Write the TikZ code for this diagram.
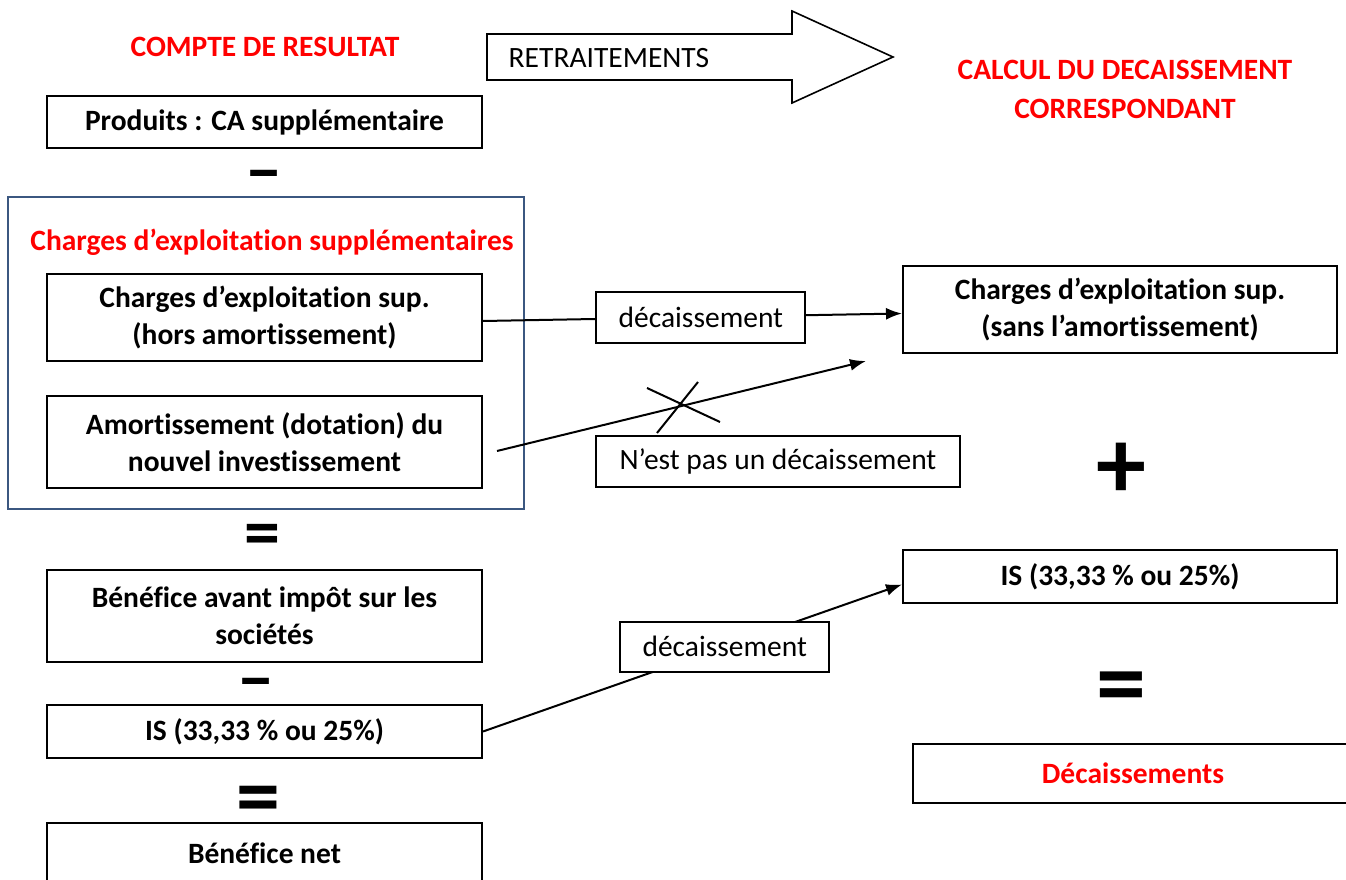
\documentclass[tikz,border=0pt]{standalone}
\usepackage{fontspec}
\setmainfont{Carlito}[Ligatures=NoCommon]
\usetikzlibrary{arrows.meta}
\definecolor{framebleu}{RGB}{59,87,128}
\definecolor{rouge}{RGB}{255,0,0}
\newcommand{\signemoins}{\scalebox{1.8}[1]{-}}

\begin{document}
\begin{tikzpicture}[
    x=1pt, y=-1pt,
    font=\fontsize{29.5}{37}\selectfont,
    poste/.style={draw, line width=2pt, minimum width=435pt, align=center, inner sep=0pt, font=\fontsize{29.5}{37}\selectfont\bfseries}, % boites du compte de resultat
    etiq/.style={draw, line width=2pt, fill=white, minimum height=51pt, align=center, inner sep=0pt}, % etiquettes sur les fleches
    titre/.style={text=rouge, align=center, font=\fontsize{29.5}{39}\selectfont\bfseries},
    signe/.style={inner sep=0pt},
    fleche/.style={line width=2pt, -{Latex[length=16pt,width=12pt]}},
  ]
\useasboundingbox (0,0) rectangle (1346,880);
\clip (0,0) rectangle (1346,880);

% titres
\node[titre] (cr) at (265,47) {COMPTE DE RESULTAT};
\node[titre] (calcul) at (1125,89) {CALCUL DU DECAISSEMENT\\CORRESPONDANT};

% grosse fleche
\draw[line width=1.6pt] (487,34) -- (792,34) -- (792,11) -- (893,57) -- (792,103) -- (792,80) -- (487,80) -- cycle;
\node (retr) at (609,58) {RETRAITEMENTS};

% colonne de gauche
\node[poste, minimum height=52pt] (prod) at (264.5,122) {Produits : CA supplémentaire};
\node[signe, font=\fontsize{60}{60}\selectfont\bfseries] (moins1) at (264,180) {\signemoins};

\draw[framebleu, line width=1.6pt] (8,197) rectangle (524,509);
\node[titre] (chexp) at (272,242) {Charges d’exploitation supplémentaires};
\node[poste, minimum height=87pt] (horsam) at (264.5,317) {Charges d’exploitation sup.\\(hors amortissement)};
\node[poste, minimum height=92pt] (amort) at (264.5,442) {Amortissement (dotation) du\\nouvel investissement};

\node[signe, font=\fontsize{72}{72}\selectfont\bfseries] (egal1) at (262,540) {=};
\node[poste, minimum height=92pt] (bai) at (264.5,616) {Bénéfice avant impôt sur les\\sociétés};
\node[signe, font=\fontsize{60}{60}\selectfont\bfseries] (moins2) at (256,688) {\signemoins};
\node[poste, minimum height=53pt] (isg) at (264.5,731.5) {IS (33,33 \% ou 25\%)};
\node[signe, font=\fontsize{88}{88}\selectfont\bfseries] (egal2) at (258,806) {=};
\node[poste, minimum height=60pt] (bnet) at (264.5,853) {Bénéfice net};

% colonne de droite
\node[poste, minimum width=434pt, minimum height=87pt] (sansam) at (1120,309.5) {Charges d’exploitation sup.\\(sans l’amortissement)};
\node[signe, font=\fontsize{100}{100}\selectfont\bfseries] (plus) at (1121,471) {+};
\node[poste, minimum width=434pt, minimum height=53pt] (isd) at (1120,576.5) {IS (33,33 \% ou 25\%)};
\node[signe, font=\fontsize{100}{100}\selectfont\bfseries] (egal3) at (1121,694) {=};
\node[poste, minimum width=440pt, minimum height=59pt, text=rouge] (decs) at (1133,773.5) {Décaissements};

% liaisons
\draw[fleche] ([yshift=-4pt]horsam.east) -- node[etiq, minimum width=209pt, pos=0.52] (dec1) {décaissement} ([yshift=-4pt]sansam.west);

\coordinate (amdep) at (497,451);
\coordinate (amfin) at (866,361);
\draw[fleche] (amdep) -- (amfin);
\coordinate (croix) at (677,405);
\draw[line width=2pt] (croix) ++(-20,28) -- ++(41,-51);
\draw[line width=2pt] (croix) ++(-30,-17) -- ++(73,34);
\node[etiq, minimum width=364pt] (nest) at (778,461.5) {N’est pas un décaissement};

\draw[fleche] (isg.east) -- node[etiq, minimum width=209pt, minimum height=50pt, pos=0.577] (dec2) {décaissement} ([yshift=-8pt]isd.west);

\end{tikzpicture}
\end{document}
